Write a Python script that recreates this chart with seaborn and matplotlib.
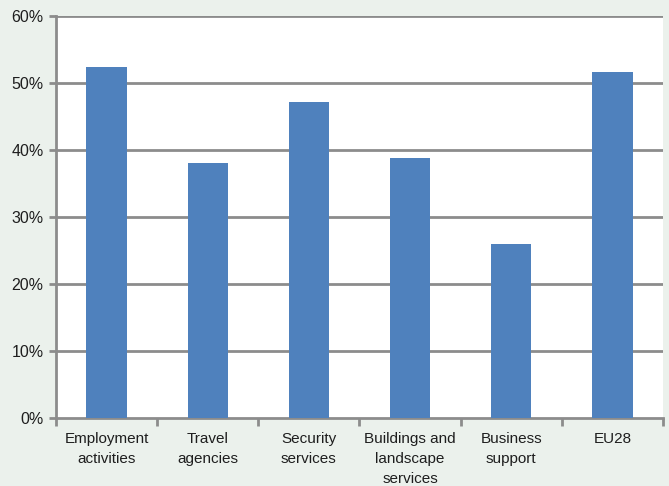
import matplotlib
matplotlib.use("Agg")
import matplotlib.pyplot as plt
from matplotlib.ticker import FixedLocator, PercentFormatter
import seaborn as sns
import pandas as pd

categories = ["Employment\nactivities", "Travel\nagencies", "Security\nservices",
              "Buildings and\nlandscape\nservices", "Business\nsupport", "EU28"]
values = [52.4, 38.1, 47.2, 38.8, 26.0, 51.6]
y_ticks = [0, 10, 20, 30, 40, 50, 60]

sns.set_theme(style="white")
plt.rcParams["font.family"] = ["Liberation Sans", "DejaVu Sans"]

bg = "#EBF1EC"
grid_col = "#8C8C8C"
text_col = "#1E1E1E"

fig = plt.figure(figsize=(6.69, 4.86), dpi=100, facecolor=bg)
ax = fig.add_axes([0.0837, 0.1399, 0.9073, 0.8271])
ax.set_facecolor("white")

df = pd.DataFrame({"category": categories, "value": values})
sns.barplot(data=df, x="category", y="value", color="#4F81BD", width=0.4,
            saturation=1, linewidth=0, ax=ax, zorder=3)

ax.set_xlim(-0.5, 5.5)
ax.set_ylim(0, 60)
ax.set_yticks(y_ticks)
ax.yaxis.set_major_formatter(PercentFormatter(decimals=0))
for y in y_ticks[1:]:
    ax.axhline(y, color=grid_col, lw=2, zorder=1)

ax.set_xlabel("")
ax.set_ylabel("")
for s in ["top", "right"]:
    ax.spines[s].set_visible(False)
ax.spines["left"].set_color(grid_col)
ax.spines["left"].set_linewidth(2)
ax.spines["bottom"].set_color(grid_col)
ax.spines["bottom"].set_linewidth(2)

ax.tick_params(axis="y", which="major", length=5, width=2, color=grid_col,
               labelsize=11.5, labelcolor=text_col, pad=4, left=True)
ax.tick_params(axis="x", which="major", length=0, labelsize=11,
               labelcolor=text_col, pad=10)
ax.xaxis.set_minor_locator(FixedLocator([i - 0.5 for i in range(7)]))
ax.tick_params(axis="x", which="minor", length=6, width=2, color=grid_col, bottom=True)
for lbl in ax.get_xticklabels():
    lbl.set_linespacing(1.55)

fig.savefig("out.png", dpi=100, facecolor=bg)
